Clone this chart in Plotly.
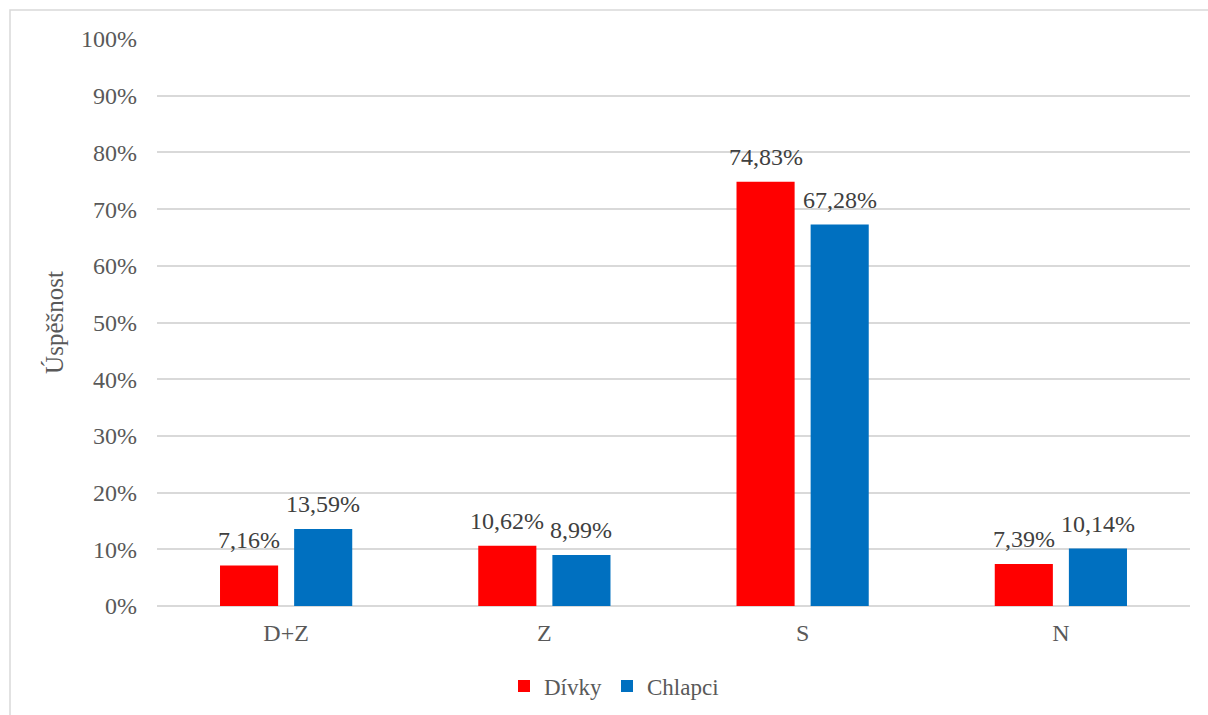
import plotly.graph_objects as go

categories = ["D+Z", "Z", "S", "N"]
divky = [7.16, 10.62, 74.83, 7.39]
chlapci = [13.59, 8.99, 67.28, 10.14]
series_names = ["Dívky", "Chlapci"]
y_title = "Úspěšnost"
y_ticks = list(range(0, 101, 10))
y_ticktext = [f"{v}%" for v in y_ticks]

FONT = "Liberation Serif"

def fmt(v):
    return f"{v:.2f}".replace(".", ",") + "%"

# bar geometry in category units (slot offset and width)
BAR_W = 0.225
SLOT = 0.287

fig = go.Figure()
series = [(series_names[0], divky, "#ff0000", -SLOT), (series_names[1], chlapci, "#0070c0", 0.0)]
for name, vals, color, off in series:
    fig.add_trace(go.Bar(
        x=categories, y=vals, name=name,
        marker=dict(color=color, line=dict(width=0)),
        width=BAR_W, offset=off + (SLOT - BAR_W) / 2,
    ))
    for i, v in enumerate(vals):
        fig.add_annotation(
            x=i + off + SLOT / 2, y=v, xref="x", yref="y",
            text=fmt(v), showarrow=False, yanchor="bottom", yshift=10,
            font=dict(family=FONT, size=24, color="#404040"),
        )

W, H = 1208, 715
L, R, T, B = 157, 18, 39, 109
pw, ph = W - L - R, H - T - B

fig.update_layout(
    template="none",
    width=W, height=H,
    margin=dict(l=L, r=R, t=T, b=B, autoexpand=False),
    paper_bgcolor="white", plot_bgcolor="white",
    barmode="overlay",
    font=dict(family=FONT, size=24, color="#595959"),
    showlegend=True,
    legend=dict(orientation="h", x=(614 - L) / pw, xanchor="center",
                y=(H - B - 686) / ph, yanchor="middle",
                font=dict(family=FONT, size=23, color="#595959"),
                itemwidth=30, traceorder="normal"),
    xaxis=dict(showgrid=False, showline=False, ticks="", range=[-0.5, 3.5],
               tickfont=dict(family=FONT, size=24, color="#595959"),
               ticklabelstandoff=10),
    yaxis=dict(range=[0, 100], tickmode="array", tickvals=y_ticks, ticktext=y_ticktext,
               showgrid=True, gridcolor="#d9d9d9", gridwidth=1.5,
               zeroline=True, zerolinecolor="#d9d9d9", zerolinewidth=1.5,
               showline=False, ticks="",
               tickfont=dict(family=FONT, size=24, color="#595959"),
               ticklabelstandoff=19,
               title=dict(text=y_title, font=dict(family=FONT, size=25, color="#595959"), standoff=10)),
    shapes=[dict(type="rect", xref="paper", yref="paper",
                 x0=(10 - L) / pw, x1=(W + 20 - L) / pw,
                 y0=(H - B - (H + 20)) / ph, y1=(H - B - 10) / ph,
                 line=dict(color="#d9d9d9", width=1.5), fillcolor="rgba(0,0,0,0)",
                 layer="below")],
)

fig.write_html("out.html")
